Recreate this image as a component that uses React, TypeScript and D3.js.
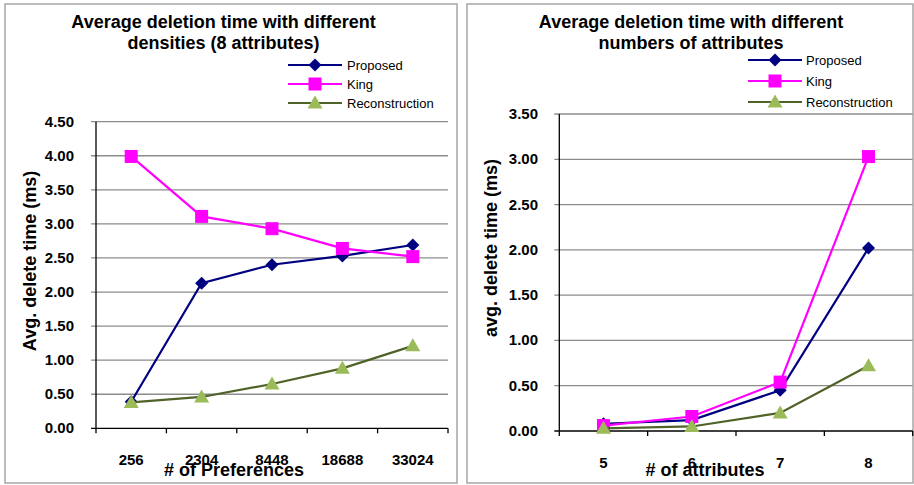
import React from "react";
import * as d3 from "d3";

const seriesNames = ["Proposed", "King", "Reconstruction"];

const densityCategories = ["256", "2304", "8448", "18688", "33024"];
const densityProposed = [0.39, 2.13, 2.4, 2.53, 2.69];
const densityKing = [3.99, 3.11, 2.93, 2.64, 2.52];
const densityReconstruction = [0.38, 0.46, 0.65, 0.88, 1.21];
const densityTicks = [0, 0.5, 1, 1.5, 2, 2.5, 3, 3.5, 4, 4.5];

const attrCategories = ["5", "6", "7", "8"];
const attrProposed = [0.08, 0.12, 0.45, 2.02];
const attrKing = [0.06, 0.16, 0.54, 3.03];
const attrReconstruction = [0.03, 0.05, 0.2, 0.72];
const attrTicks = [0, 0.5, 1, 1.5, 2, 2.5, 3, 3.5];

const lineColors = ["#000080", "#FF00FF", "#4F6228"];
const markerColors = ["#000080", "#FF00FF", "#9BBB59"];
const FONT = "'Liberation Sans', Arial, sans-serif";

function Marker({ kind, x, y, color }: { kind: number; x: number; y: number; color: string }) {
  if (kind === 0) {
    const s = 6.5;
    return <path d={`M${x},${y - s}L${x + s},${y}L${x},${y + s}L${x - s},${y}Z`} fill={color} />;
  }
  if (kind === 1) {
    const s = 6.5;
    return <rect x={x - s} y={y - s} width={2 * s} height={2 * s} fill={color} />;
  }
  const w = 7.5;
  return <path d={`M${x},${y - 7.5}L${x + w},${y + 5.5}L${x - w},${y + 5.5}Z`} fill={color} />;
}

type ChartProps = {
  panel: [number, number, number, number];
  plot: { x0: number; x1: number; yTop: number; yBottom: number };
  yMax: number;
  ticks: number[];
  categories: string[];
  series: number[][];
  title: string[];
  titleX: number;
  titleYs: number[];
  yTitle: string;
  yTitlePos: [number, number];
  xTitle: string;
  xTitleX: number;
  tickLabelRight: number;
  legend: { x0: number; x1: number; ys: number[]; textX: number };
};

function Chart(p: ChartProps) {
  const x = d3.scaleBand<string>().domain(p.categories).range([p.plot.x0, p.plot.x1]);
  const y = d3.scaleLinear().domain([0, p.yMax]).range([p.plot.yBottom, p.plot.yTop]);
  const line = d3
    .line<number>()
    .x((_, i) => (x(p.categories[i]) as number) + x.bandwidth() / 2)
    .y((v) => y(v));
  const boundaries = p.categories.map((c) => x(c) as number).concat([p.plot.x1]);
  return (
    <g fontFamily={FONT}>
      <rect x={p.panel[0]} y={p.panel[1]} width={p.panel[2]} height={p.panel[3]} fill="#fff" stroke="#a6a6a6" strokeWidth={1.5} />
      {p.title.map((t, i) => (
        <text key={i} x={p.titleX} y={p.titleYs[i]} textAnchor="middle" fontSize={18} fontWeight="bold" fill="#000">
          {t}
        </text>
      ))}
      {p.ticks.map((t) => (
        <g key={t}>
          <line x1={p.plot.x0 - 5} x2={p.plot.x1} y1={y(t)} y2={y(t)} stroke={t === 0 ? "#000" : "#8c8c8c"} strokeWidth={1.3} />
          <text x={p.tickLabelRight} y={y(t) + 5} textAnchor="end" fontSize={15} fontWeight="bold">
            {t.toFixed(2)}
          </text>
        </g>
      ))}
      <line x1={p.plot.x0} x2={p.plot.x0} y1={p.plot.yTop} y2={p.plot.yBottom} stroke="#000" strokeWidth={1.3} />
      {boundaries.map((b, i) => (
        <line key={i} x1={b} x2={b} y1={p.plot.yBottom} y2={p.plot.yBottom + 5} stroke="#000" strokeWidth={1.3} />
      ))}
      {p.categories.map((c) => (
        <text key={c} x={(x(c) as number) + x.bandwidth() / 2} y={p.plot.yBottom + 37} textAnchor="middle" fontSize={15} fontWeight="bold">
          {c}
        </text>
      ))}
      <text x={p.xTitleX} y={476} textAnchor="middle" fontSize={18} fontWeight="bold">
        {p.xTitle}
      </text>
      <text
        transform={`translate(${p.yTitlePos[0]},${p.yTitlePos[1]}) rotate(-90)`}
        textAnchor="middle"
        dy={6}
        fontSize={18}
        fontWeight="bold"
      >
        {p.yTitle}
      </text>
      {p.series.map((s, si) => (
        <g key={si}>
          <path d={line(s) || ""} fill="none" stroke={lineColors[si]} strokeWidth={2.2} />
          {s.map((v, i) => (
            <Marker key={i} kind={si} x={(x(p.categories[i]) as number) + x.bandwidth() / 2} y={y(v)} color={markerColors[si]} />
          ))}
        </g>
      ))}
      {seriesNames.map((n, i) => (
        <g key={n}>
          <line x1={p.legend.x0} x2={p.legend.x1} y1={p.legend.ys[i]} y2={p.legend.ys[i]} stroke={lineColors[i]} strokeWidth={2.2} />
          <Marker kind={i} x={(p.legend.x0 + p.legend.x1) / 2} y={p.legend.ys[i] + (i === 2 ? 0 : 0)} color={markerColors[i]} />
          <text x={p.legend.textX} y={p.legend.ys[i] + 4.5} fontSize={13}>
            {n}
          </text>
        </g>
      ))}
    </g>
  );
}

export default function App() {
  return (
    <svg width={914} height={485} style={{ position: "absolute", left: 0, top: 0, background: "#fff" }}>
      <Chart
        panel={[5, 4, 452, 479]}
        plot={{ x0: 96, x1: 448, yTop: 121.7, yBottom: 428.3 }}
        yMax={4.5}
        ticks={densityTicks}
        categories={densityCategories}
        series={[densityProposed, densityKing, densityReconstruction]}
        title={["Average deletion time with different", "densities (8 attributes)"]}
        titleX={223.5}
        titleYs={[28, 49]}
        yTitle="Avg. delete time (ms)"
        yTitlePos={[30, 261]}
        xTitle="# of Preferences"
        xTitleX={234}
        tickLabelRight={74}
        legend={{ x0: 288, x1: 342, ys: [65, 84, 103], textX: 347 }}
      />
      <Chart
        panel={[467, 4, 446, 479]}
        plot={{ x0: 559.3, x1: 912.7, yTop: 114, yBottom: 431 }}
        yMax={3.5}
        ticks={attrTicks}
        categories={attrCategories}
        series={[attrProposed, attrKing, attrReconstruction]}
        title={["Average deletion time with different", "numbers of attributes"]}
        titleX={691}
        titleYs={[28, 49]}
        yTitle="avg. delete time (ms)"
        yTitlePos={[491, 248]}
        xTitle="# of attributes"
        xTitleX={705}
        tickLabelRight={538}
        legend={{ x0: 748, x1: 802, ys: [60, 81, 102], textX: 806 }}
      />
    </svg>
  );
}
